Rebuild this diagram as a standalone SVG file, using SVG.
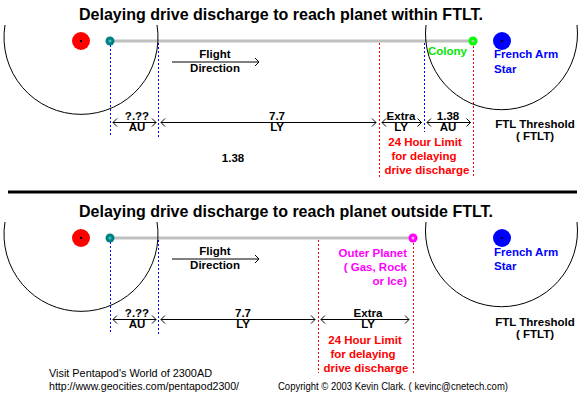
<svg xmlns="http://www.w3.org/2000/svg" width="585" height="402" viewBox="0 0 585 402">
<defs>
<style>
.t{font-family:"Liberation Sans",Arial,sans-serif;font-weight:bold;font-size:11.5px;fill:#000}
.c{text-anchor:middle}
.title{font-family:"Liberation Sans",Arial,sans-serif;font-weight:bold;font-size:16.5px;fill:#000}
.ft{font-family:"Liberation Sans",Arial,sans-serif;font-size:11px;fill:#000}
.red{fill:#ff0000}.blue{fill:#0000ff}.green{fill:#00e800}.mag{fill:#ff00ff}
.orb{fill:none;stroke:#000;stroke-width:1}
.path{stroke:#c0c0c0;stroke-width:3;fill:none}
.dim{stroke:#000;stroke-width:1;fill:none;marker-start:url(#chev);marker-end:url(#chev)}
.fl{stroke:#000;stroke-width:1;fill:none;marker-end:url(#chev)}
.db{stroke:#0000ff;stroke-width:1;stroke-dasharray:2,2;fill:none}
.dr{stroke:#ff0000;stroke-width:1;stroke-dasharray:2,2;fill:none}
</style>
<marker id="chev" viewBox="-6 -6 8 12" markerWidth="8" markerHeight="12" refX="0" refY="0" orient="auto-start-reverse" markerUnits="userSpaceOnUse">
<path d="M-4,-4 L0,0 L-4,4" fill="none" stroke="#000" stroke-width="1"/>
</marker>
</defs>
<rect width="585" height="402" fill="#fff"/>

<!-- TOP PANEL -->
<text class="title" x="79" y="20" textLength="404" lengthAdjust="spacingAndGlyphs">Delaying drive discharge to reach planet within FTLT.</text>

<g id="connectors-top">
<line class="path" x1="114" y1="41" x2="469" y2="41"/>
<line class="db" x1="110.5" y1="45" x2="110.5" y2="137"/>
<line class="db" x1="158.5" y1="43" x2="158.5" y2="137"/>
<line class="dr" x1="379.5" y1="43" x2="379.5" y2="178"/>
<line class="db" x1="424.5" y1="43" x2="424.5" y2="132"/>
<line class="dr" x1="473.5" y1="46" x2="473.5" y2="178"/>
<line class="fl" x1="172" y1="62" x2="259" y2="62"/>
<line class="dim" x1="113" y1="122.5" x2="156" y2="122.5"/>
<line class="dim" x1="161" y1="122.5" x2="376" y2="122.5"/>
<line class="dim" x1="382" y1="122.5" x2="421.5" y2="122.5"/>
<line class="dim" x1="427" y1="122.5" x2="470.5" y2="122.5"/>
</g>

<g id="home-orbit-top"><path class="orb" d="M5,25 A77,77 0 1 0 157,25"/></g>
<g id="home-star-top"><circle cx="81" cy="41" r="9" fill="#ff0000"/><rect x="80" y="40" width="2" height="2" fill="#000"/></g>
<g id="ship-top"><circle cx="110" cy="41" r="4.5" fill="#008080"/><circle cx="110" cy="41" r="1.5" fill="#40c0c0"/></g>
<g id="flight-top"><text class="t c" x="215" y="58">Flight</text><text class="t c" x="215" y="72">Direction</text></g>
<g id="colony"><circle cx="473" cy="41" r="4.5" fill="#00ff00"/><circle cx="473" cy="41" r="1.5" fill="#a0d0a0"/><text class="t green" x="467" y="55" text-anchor="end">Colony</text></g>
<g id="fa-orbit-top"><path class="orb" d="M426,25 A76,76 0 1 0 577,25"/></g>
<g id="fa-star-top"><circle cx="502" cy="41" r="9" fill="#0000ff"/><rect x="501" y="40" width="2" height="2" fill="#000"/><text class="t blue" x="494" y="58">French Arm</text><text class="t blue" x="494" y="73">Star</text></g>
<g id="labels-top">
<text class="t c" x="137" y="120">?.??</text><text class="t c" x="137" y="131">AU</text>
<text class="t c" x="277" y="120">7.7</text><text class="t c" x="277" y="131">LY</text>
<text class="t c" x="401" y="120">Extra</text><text class="t c" x="401" y="131">LY</text>
<text class="t c" x="448" y="120">1.38</text><text class="t c" x="448" y="131">AU</text>
<text class="t c" x="535" y="128">FTL Threshold</text><text class="t c" x="535" y="140">( FTLT)</text>
<text class="t c red" x="425" y="146">24 Hour Limit</text>
<text class="t c red" x="424" y="160">for delaying</text>
<text class="t c red" x="427" y="173.5">drive discharge</text>
<text class="t c" x="233" y="161.5">1.38</text>
</g>

<line x1="8" y1="192" x2="577" y2="192" stroke="#000" stroke-width="3"/>

<!-- BOTTOM PANEL -->
<text class="title" x="79" y="217" textLength="414" lengthAdjust="spacingAndGlyphs">Delaying drive discharge to reach planet outside FTLT.</text>

<g id="connectors-bottom">
<line class="path" x1="114" y1="238" x2="409" y2="238"/>
<line class="db" x1="110.5" y1="242" x2="110.5" y2="334"/>
<line class="db" x1="158.5" y1="240" x2="158.5" y2="334"/>
<line class="dr" x1="318.5" y1="240" x2="318.5" y2="373"/>
<line class="dr" x1="413.5" y1="243" x2="413.5" y2="373"/>
<line class="fl" x1="172" y1="259" x2="259" y2="259"/>
<line class="dim" x1="113" y1="319.5" x2="156" y2="319.5"/>
<line class="dim" x1="161" y1="319.5" x2="315" y2="319.5"/>
<line class="dim" x1="321" y1="319.5" x2="409" y2="319.5"/>
</g>

<g id="home-orbit-bottom"><path class="orb" d="M5,222 A77,77 0 1 0 157,222"/></g>
<g id="home-star-bottom"><circle cx="81" cy="238" r="9" fill="#ff0000"/><rect x="80" y="237" width="2" height="2" fill="#000"/></g>
<g id="ship-bottom"><circle cx="110" cy="238" r="4.5" fill="#008080"/><circle cx="110" cy="238" r="1.5" fill="#40c0c0"/></g>
<g id="flight-bottom"><text class="t c" x="215" y="255">Flight</text><text class="t c" x="215" y="269">Direction</text></g>
<g id="outer-planet"><circle cx="413" cy="238" r="4.5" fill="#ff00ff"/><circle cx="413" cy="238" r="1.5" fill="#ffa0ff"/>
<text class="t mag" x="407" y="256.5" text-anchor="end">Outer Planet</text>
<text class="t mag" x="407" y="270.5" text-anchor="end">( Gas, Rock</text>
<text class="t mag" x="407" y="284.5" text-anchor="end">or Ice)</text></g>
<g id="fa-orbit-bottom"><path class="orb" d="M426,222 A76,76 0 1 0 577,222"/></g>
<g id="fa-star-bottom"><circle cx="502" cy="238" r="9" fill="#0000ff"/><rect x="501" y="237" width="2" height="2" fill="#000"/><text class="t blue" x="494" y="255.5">French Arm</text><text class="t blue" x="494" y="270">Star</text></g>
<g id="labels-bottom">
<text class="t c" x="137" y="317">?.??</text><text class="t c" x="137" y="328">AU</text>
<text class="t c" x="243" y="317">7.7</text><text class="t c" x="243" y="328">LY</text>
<text class="t c" x="368" y="317">Extra</text><text class="t c" x="368" y="328">LY</text>
<text class="t c" x="535" y="326">FTL Threshold</text><text class="t c" x="535" y="338">( FTLT)</text>
<text class="t c red" x="365" y="344">24 Hour Limit</text>
<text class="t c red" x="363" y="358">for delaying</text>
<text class="t c red" x="366" y="371.5">drive discharge</text>
</g>

<g id="footer">
<text class="ft" x="49" y="377" textLength="163" lengthAdjust="spacingAndGlyphs">Visit Pentapod's World of 2300AD</text>
<text class="ft" x="49" y="389.5" textLength="190" lengthAdjust="spacingAndGlyphs">http://www.geocities.com/pentapod2300/</text>
<text class="ft" x="278" y="389.5" textLength="230" lengthAdjust="spacingAndGlyphs">Copyright © 2003  Kevin Clark. ( kevinc@cnetech.com)</text>
</g>
</svg>
